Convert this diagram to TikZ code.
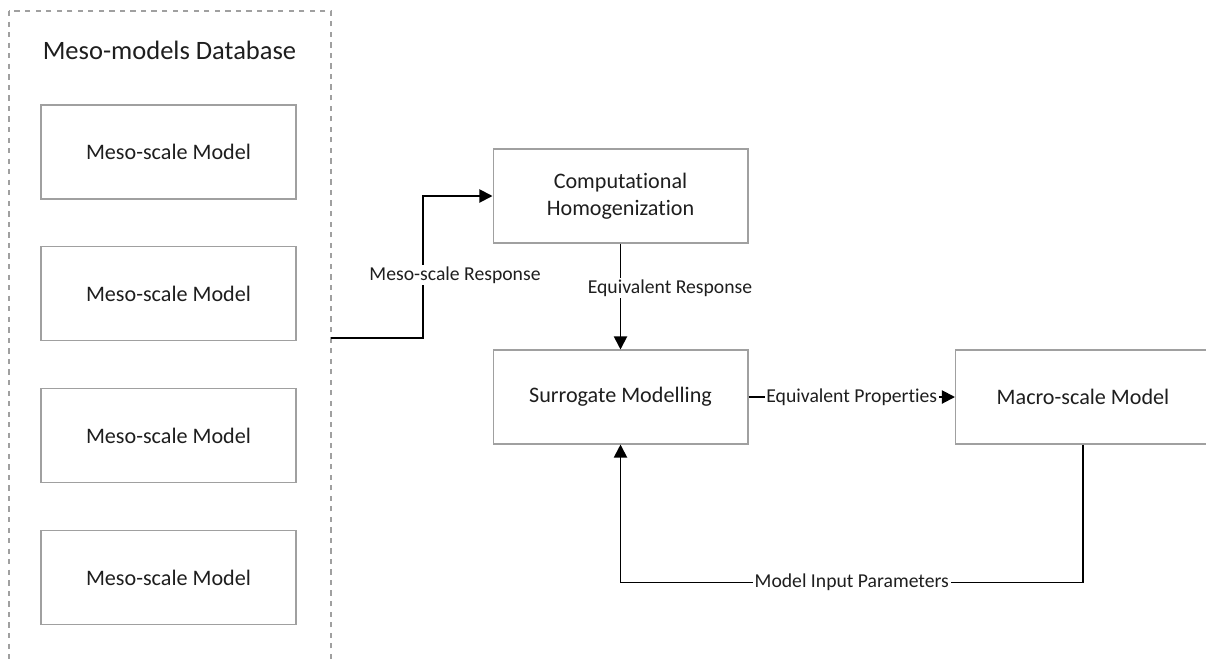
\documentclass[tikz,border=0pt]{standalone}
\usepackage{fontspec}
\setmainfont{Carlito}[Ligatures={NoCommon}]
\usetikzlibrary{arrows.meta}

\definecolor{boxgray}{HTML}{A0A0A0}
\definecolor{txtgray}{HTML}{1E1E1E}

\tikzset{
  modelbox/.style={draw=boxgray, line width=0.6pt, minimum width=5.1cm, minimum height=1.88cm,
    align=center, text=txtgray, font=\fontsize{12.6}{15.5}\selectfont},
  conn/.style={draw=black, line width=1.1pt, -{Triangle[length=7.5pt,width=7.5pt]}},
  lbl/.style={fill=white, inner sep=1pt, text=txtgray, font=\fontsize{11.2}{13}\selectfont}
}

\begin{document}
\begin{tikzpicture}[x=0.02cm, y=-0.02cm]

  \clip (0,0) rectangle (1206,663);

  % database of meso-models
  \draw[boxgray, dashed, line width=0.6pt] (9,11) rectangle (331,680);
  \node[text=txtgray, font=\fontsize{15.1}{18}\selectfont] (dbtitle) at (169.5,50) {Meso-models Database};
  \foreach \i in {0,...,3}{
    \node[modelbox] (meso\i) at (168.5,{152+141.8*\i}) {Meso-scale Model};
  }
  \coordinate (dbout) at (331,338);

  \node[modelbox] (comp) at (620.5,196) {Computational\\Homogenization};
  \node[modelbox] (surr) at (620.5,397) {Surrogate Modelling};
  \node[modelbox] (macro) at (1083,397) {Macro-scale Model};

  \draw[conn] (dbout) -- ++(92,0) |- (comp.west);
  \node[lbl] (mesoresp) at (455,275) {Meso-scale Response};

  \draw[conn] (comp.south) -- (surr.north);
  \node[lbl] (eqresp) at (670,288) {Equivalent Response};

  \draw[conn] (surr.east) -- node[lbl] (eqprop) {Equivalent Properties} (macro.west);

  \draw[conn] (macro.south) -- ++(0,138) -| node[lbl, pos=0.25] (inparam) {Model Input Parameters} (surr.south);

\end{tikzpicture}
\end{document}
